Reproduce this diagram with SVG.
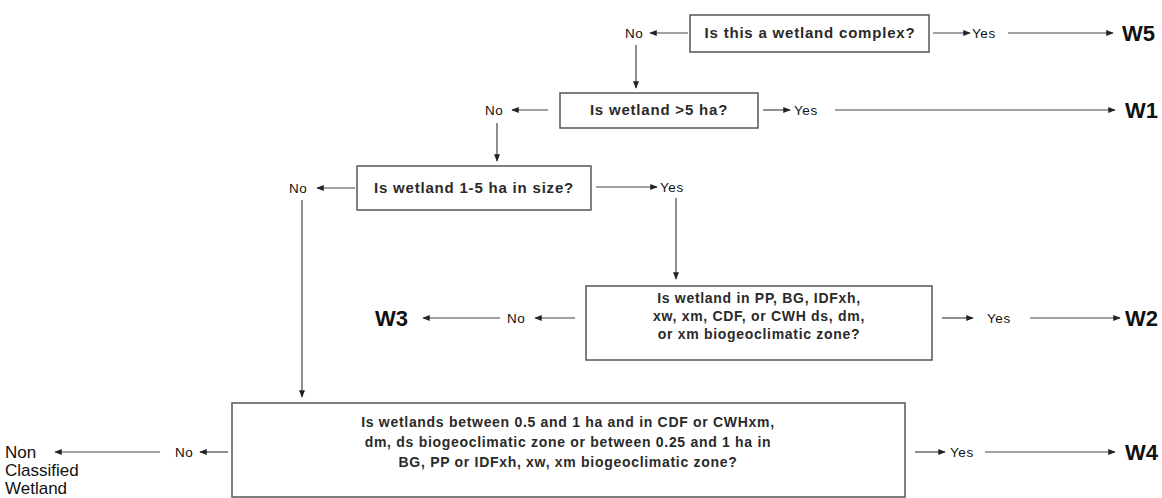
<svg xmlns="http://www.w3.org/2000/svg" width="1162" height="498" viewBox="0 0 1162 498">
<style>
.box{fill:#fff;stroke:#555;stroke-width:1.5}
.q{font-family:"Liberation Sans",Arial,sans-serif;font-size:15px;font-weight:bold;fill:#2a2a2a;letter-spacing:0.8px;text-anchor:middle}
.q2{font-family:"Liberation Sans",Arial,sans-serif;font-size:14px;font-weight:bold;fill:#2a2a2a;letter-spacing:0.7px;text-anchor:middle}
.lb{font-family:"Liberation Sans",Arial,sans-serif;font-size:13.5px;fill:#111;letter-spacing:0.6px}
.w{font-family:"Liberation Sans",Arial,sans-serif;font-size:22px;font-weight:bold;fill:#111}
.nc{font-family:"Liberation Sans",Arial,sans-serif;font-size:17px;fill:#111}
.c line{stroke:#444;stroke-width:1.2;marker-end:url(#ah)}
</style>
<defs>
<marker id="ah" viewBox="0 0 10 8" refX="9" refY="4" markerWidth="8" markerHeight="6" markerUnits="userSpaceOnUse" orient="auto">
<path d="M0,0 L10,4 L0,8 z" fill="#222"/>
</marker>
</defs>
<rect width="1162" height="498" fill="#fff"/>
<g class="c" id="connectors">
<line x1="688" y1="33" x2="650" y2="33"/>
<line x1="933" y1="33" x2="970" y2="33"/>
<line x1="1008" y1="33" x2="1113" y2="33"/>
<line x1="636" y1="45" x2="636" y2="88"/>
<line x1="548" y1="110" x2="512" y2="110"/>
<line x1="763" y1="110" x2="790" y2="110"/>
<line x1="835" y1="110" x2="1115" y2="110"/>
<line x1="497" y1="123" x2="497" y2="161"/>
<line x1="355" y1="188" x2="317" y2="188"/>
<line x1="596" y1="187" x2="657" y2="187"/>
<line x1="676" y1="198" x2="676" y2="279"/>
<line x1="302" y1="200" x2="302" y2="397"/>
<line x1="575" y1="318" x2="535" y2="318"/>
<line x1="500" y1="318" x2="423" y2="318"/>
<line x1="942" y1="318" x2="973" y2="318"/>
<line x1="1030" y1="318" x2="1120" y2="318"/>
<line x1="228" y1="452" x2="200" y2="452"/>
<line x1="160" y1="452" x2="55" y2="452"/>
<line x1="915" y1="452" x2="945" y2="452"/>
<line x1="985" y1="452" x2="1115" y2="452"/>
</g>
<g id="n1">
<rect class="box" x="690" y="15" width="239" height="37"/>
<text class="q" x="810" y="38">Is this a wetland complex?</text>
</g>
<g id="n2">
<rect class="box" x="560" y="93" width="198" height="35"/>
<text class="q" x="659" y="115">Is wetland &gt;5 ha?</text>
</g>
<g id="n3">
<rect class="box" x="357" y="166" width="234" height="44"/>
<text class="q" x="474" y="193">Is wetland 1-5 ha in size?</text>
</g>
<g id="n4">
<rect class="box" x="586" y="286" width="346" height="74"/>
<text class="q2" x="759" y="303">Is wetland in PP, BG, IDFxh,</text>
<text class="q2" x="759" y="321">xw, xm, CDF, or CWH ds, dm,</text>
<text class="q2" x="759" y="339">or xm biogeoclimatic zone?</text>
</g>
<g id="n5">
<rect class="box" x="232" y="403" width="673" height="94"/>
<text class="q2" x="568" y="427">Is wetlands between 0.5 and 1 ha and in CDF or CWHxm,</text>
<text class="q2" x="568" y="447">dm, ds biogeoclimatic zone or between 0.25 and 1 ha in</text>
<text class="q2" x="568" y="467">BG, PP or IDFxh, xw, xm biogeoclimatic zone?</text>
</g>
<g id="labels">
<text class="lb" x="625" y="38">No</text>
<text class="lb" x="972" y="38">Yes</text>
<text class="lb" x="485" y="115">No</text>
<text class="lb" x="794" y="115">Yes</text>
<text class="lb" x="289" y="193">No</text>
<text class="lb" x="660" y="192">Yes</text>
<text class="lb" x="507" y="323">No</text>
<text class="lb" x="987" y="323">Yes</text>
<text class="lb" x="175" y="457">No</text>
<text class="lb" x="950" y="457">Yes</text>
</g>
<g id="terminals">
<text class="w" x="1122" y="41">W5</text>
<text class="w" x="1125" y="118">W1</text>
<text class="w" x="375" y="326">W3</text>
<text class="w" x="1125" y="326">W2</text>
<text class="w" x="1125" y="460">W4</text>
<text class="nc" x="5" y="458">Non</text>
<text class="nc" x="5" y="476">Classified</text>
<text class="nc" x="5" y="494">Wetland</text>
</g>
</svg>
